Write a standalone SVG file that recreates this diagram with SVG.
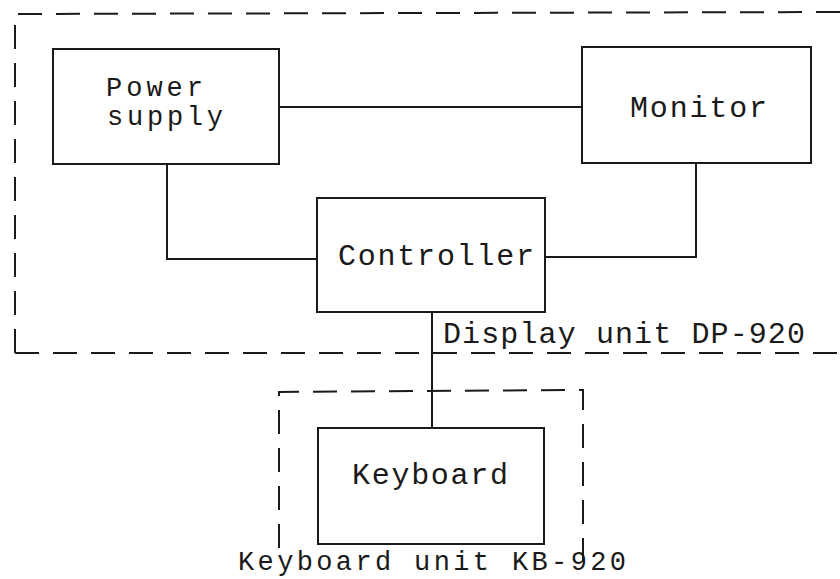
<svg xmlns="http://www.w3.org/2000/svg" width="840" height="579" viewBox="0 0 840 579">
<style>
.box{fill:none;stroke:#1a1a1a;stroke-width:2}
.wire{fill:none;stroke:#1a1a1a;stroke-width:2}
.frame{fill:none;stroke:#1a1a1a;stroke-width:2;stroke-dasharray:24 14}
.lbl{font-family:"Liberation Mono","DejaVu Sans Mono",monospace;font-size:30px;fill:#1a1a1a}
.sm{font-size:27px}
</style>
<rect width="840" height="579" fill="#ffffff"/>
<g id="display-unit">
<path class="frame" d="M15,353 L15,14 L840,12"/>
<path class="frame" d="M15,353 L840,353"/>
<text class="lbl" x="443" y="343" textLength="362" lengthAdjust="spacing">Display unit DP-920</text>
</g>
<g id="keyboard-unit">
<path class="frame" d="M279,548 L279,392 L583,390 L583,560"/>
<text class="lbl sm" x="238" y="570" textLength="388" lengthAdjust="spacing">Keyboard unit KB-920</text>
</g>
<g id="connectors">
<line class="wire" x1="279" y1="107" x2="582" y2="107"/>
<polyline class="wire" points="167,164 167,259 317,259"/>
<polyline class="wire" points="696,163 696,257 545,257"/>
<line class="wire" x1="432" y1="312" x2="432" y2="428"/>
</g>
<g id="power-supply">
<rect class="box" x="53" y="49" width="226" height="115"/>
<text class="lbl sm" x="106" y="96" textLength="97" lengthAdjust="spacing">Power</text>
<text class="lbl sm" x="107" y="125" textLength="116" lengthAdjust="spacing">supply</text>
</g>
<g id="monitor">
<rect class="box" x="582" y="47" width="229" height="116"/>
<text class="lbl" x="630" y="117" textLength="137" lengthAdjust="spacing">Monitor</text>
</g>
<g id="controller">
<rect class="box" x="317" y="198" width="228" height="114"/>
<text class="lbl" x="338" y="265" textLength="196" lengthAdjust="spacing">Controller</text>
</g>
<g id="keyboard">
<rect class="box" x="318" y="428" width="226" height="116"/>
<text class="lbl" x="352" y="484" textLength="156" lengthAdjust="spacing">Keyboard</text>
</g>
</svg>
